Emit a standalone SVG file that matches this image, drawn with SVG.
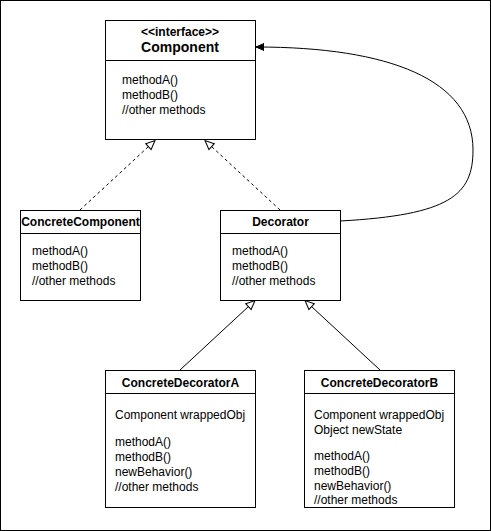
<svg xmlns="http://www.w3.org/2000/svg" width="491" height="531" viewBox="0 0 491 531">
<style>
.box{fill:#fff;stroke:#000;stroke-width:1}
.t{font-family:"Liberation Sans",Arial,sans-serif;font-size:12px;fill:#000}
.b{font-weight:bold}
.c{text-anchor:middle}
.edge{fill:none;stroke:#000;stroke-width:1}
.dash{stroke-dasharray:3,3}
</style>
<defs>
<marker id="tri" markerUnits="userSpaceOnUse" markerWidth="12" markerHeight="12" refX="10" refY="5" orient="auto" viewBox="0 0 12 10">
<path d="M1,1 L10,5 L1,9 Z" fill="#fff" stroke="#000" stroke-width="1"/>
</marker>
<marker id="arr" markerUnits="userSpaceOnUse" markerWidth="10" markerHeight="10" refX="8" refY="4" orient="auto" viewBox="0 0 10 8">
<path d="M0,0.5 L8,4 L0,7.5 Z" fill="#000" stroke="#000" stroke-width="1"/>
</marker>
</defs>
<rect x="0.5" y="0.5" width="490" height="530" fill="#fff" stroke="#000"/>
<g id="connectors">
<line class="edge dash" x1="80" y1="210" x2="155" y2="140.5" marker-end="url(#tri)"/>
<line class="edge dash" x1="280" y1="210" x2="205" y2="140.5" marker-end="url(#tri)"/>
<line class="edge" x1="180" y1="370" x2="255" y2="300.5" marker-end="url(#tri)"/>
<line class="edge" x1="380" y1="370" x2="305" y2="300.5" marker-end="url(#tri)"/>
<path class="edge" d="M340,221 C450,215 473,195 473,150 C473,80 390,47 256,47" marker-end="url(#arr)"/>
</g>
<g id="Component">
<rect class="box" x="105.5" y="20.5" width="150" height="119"/>
<line class="edge" x1="105.5" y1="60.5" x2="255.5" y2="60.5"/>
<text class="t b c" x="180" y="36">&lt;&lt;interface&gt;&gt;</text>
<text class="t b c" x="180" y="52" style="font-size:14px">Component</text>
<text class="t" x="122" y="84">methodA()</text>
<text class="t" x="122" y="99">methodB()</text>
<text class="t" x="122" y="114">//other methods</text>
</g>
<g id="ConcreteComponent">
<rect class="box" x="20.5" y="210.5" width="120" height="90"/>
<line class="edge" x1="20.5" y1="233.5" x2="140.5" y2="233.5"/>
<text class="t b c" x="80.5" y="226">ConcreteComponent</text>
<text class="t" x="32" y="254.5">methodA()</text>
<text class="t" x="32" y="269.5">methodB()</text>
<text class="t" x="32" y="284.5">//other methods</text>
</g>
<g id="Decorator">
<rect class="box" x="220.5" y="210.5" width="120" height="90"/>
<line class="edge" x1="220.5" y1="233.5" x2="340.5" y2="233.5"/>
<text class="t b c" x="280.5" y="226">Decorator</text>
<text class="t" x="232" y="254.5">methodA()</text>
<text class="t" x="232" y="269.5">methodB()</text>
<text class="t" x="232" y="284.5">//other methods</text>
</g>
<g id="ConcreteDecoratorA">
<rect class="box" x="105.5" y="370.5" width="150" height="137"/>
<line class="edge" x1="105.5" y1="393.5" x2="255.5" y2="393.5"/>
<text class="t b c" x="180.5" y="387">ConcreteDecoratorA</text>
<text class="t" x="115" y="418.5">Component wrappedObj</text>
<text class="t" x="115" y="446">methodA()</text>
<text class="t" x="115" y="461">methodB()</text>
<text class="t" x="115" y="476">newBehavior()</text>
<text class="t" x="115" y="491">//other methods</text>
</g>
<g id="ConcreteDecoratorB">
<rect class="box" x="304.5" y="370.5" width="150" height="137"/>
<line class="edge" x1="304.5" y1="393.5" x2="454.5" y2="393.5"/>
<text class="t b c" x="379.5" y="387">ConcreteDecoratorB</text>
<text class="t" x="314" y="418.5">Component wrappedObj</text>
<text class="t" x="314" y="433.5">Object newState</text>
<text class="t" x="314" y="460">methodA()</text>
<text class="t" x="314" y="475">methodB()</text>
<text class="t" x="314" y="490">newBehavior()</text>
<text class="t" x="314" y="504">//other methods</text>
</g>
</svg>
